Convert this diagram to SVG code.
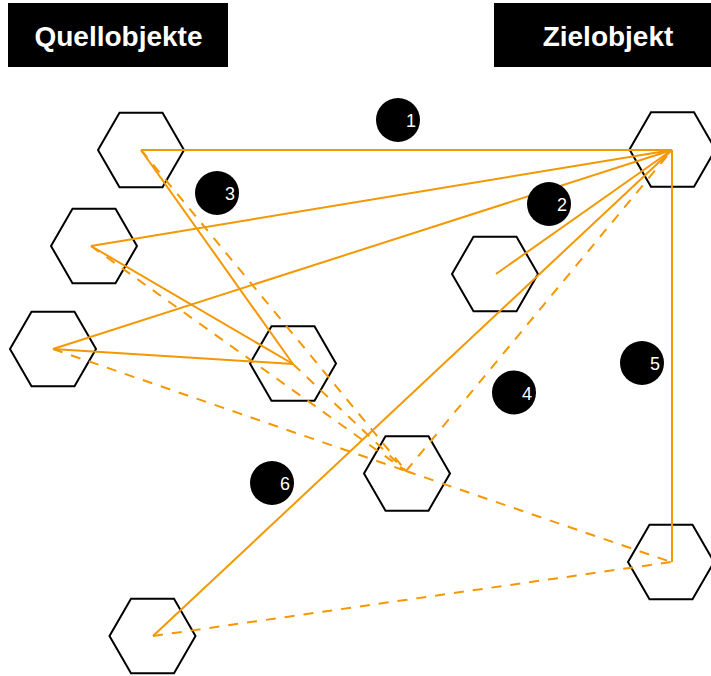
<svg xmlns="http://www.w3.org/2000/svg" xmlns:xlink="http://www.w3.org/1999/xlink" width="711" height="676" viewBox="0 0 711 676">
<style>
.hdr{fill:#000}
.hdrt{fill:#fff;font-family:"Liberation Sans",Arial,sans-serif;font-weight:bold;font-size:28px;text-anchor:middle}
.hex{fill:#fff;stroke:#000;stroke-width:2}
.c{fill:none;stroke:#F39800;stroke-width:2;stroke-linecap:butt}
.d{stroke-dasharray:10 9}
.badge{fill:#000}
.bt{fill:#fff;font-family:"Liberation Sans",Arial,sans-serif;font-size:18px;text-anchor:middle}
</style>
<defs>
<polygon id="hx" points="-43,0 -21.5,-37.2 21.5,-37.2 43,0 21.5,37.2 -21.5,37.2"/>
</defs>
<rect width="711" height="676" fill="#fff"/>
<g id="header-quelle"><rect class="hdr" x="8" y="3" width="220" height="64"/><text class="hdrt" x="118.5" y="46">Quellobjekte</text></g>
<g id="header-ziel"><rect class="hdr" x="494" y="3" width="220" height="64"/><text class="hdrt" x="608" y="46">Zielobjekt</text></g>
<g id="h1" transform="translate(141,150)"><use href="#hx" class="hex"/></g>
<g id="h2" transform="translate(94,246)"><use href="#hx" class="hex"/></g>
<g id="h3" transform="translate(53,349)"><use href="#hx" class="hex"/></g>
<g id="h4" transform="translate(293,363.5)"><use href="#hx" class="hex"/></g>
<g id="h5" transform="translate(407,473.5)"><use href="#hx" class="hex"/></g>
<g id="h6" transform="translate(495,274)"><use href="#hx" class="hex"/></g>
<g id="h7" transform="translate(671,562)"><use href="#hx" class="hex"/></g>
<g id="h8" transform="translate(152.5,636)"><use href="#hx" class="hex"/></g>
<g id="ziel" transform="translate(672.5,149.5)"><use href="#hx" class="hex"/></g>
<g id="connectors">
<line class="c" x1="141" y1="150" x2="672" y2="150"/>
<line class="c" x1="91" y1="246" x2="672" y2="150"/>
<line class="c" x1="53" y1="349" x2="672" y2="150"/>
<line class="c" x1="496" y1="274" x2="672" y2="150"/>
<line class="c" x1="153" y1="636" x2="672" y2="150"/>
<line class="c" x1="672" y1="150" x2="672" y2="562"/>
<line class="c" x1="141" y1="150" x2="293" y2="364"/>
<line class="c" x1="91" y1="246" x2="293" y2="364"/>
<line class="c" x1="53" y1="349" x2="293" y2="364"/>
<line class="c d" x1="141" y1="150" x2="406" y2="471"/>
<line class="c d" x1="91" y1="246" x2="406" y2="471"/>
<line class="c d" x1="53" y1="349" x2="406" y2="471"/>
<line class="c d" x1="293" y1="364" x2="406" y2="471"/>
<line class="c d" x1="406" y1="471" x2="672" y2="150"/>
<line class="c d" x1="406" y1="471" x2="671" y2="562"/>
<line class="c d" x1="153" y1="636" x2="671" y2="562"/>
</g>
<g id="b1"><circle class="badge" cx="398" cy="120" r="22"/><text class="bt" x="411" y="127">1</text></g>
<g id="b2"><circle class="badge" cx="549" cy="204" r="22"/><text class="bt" x="562" y="211">2</text></g>
<g id="b3"><circle class="badge" cx="217" cy="193" r="22"/><text class="bt" x="230" y="200">3</text></g>
<g id="b4"><circle class="badge" cx="514" cy="392.5" r="22"/><text class="bt" x="527" y="400">4</text></g>
<g id="b5"><circle class="badge" cx="642" cy="363" r="22"/><text class="bt" x="655" y="370">5</text></g>
<g id="b6"><circle class="badge" cx="272" cy="483" r="22"/><text class="bt" x="285" y="490">6</text></g>
</svg>
